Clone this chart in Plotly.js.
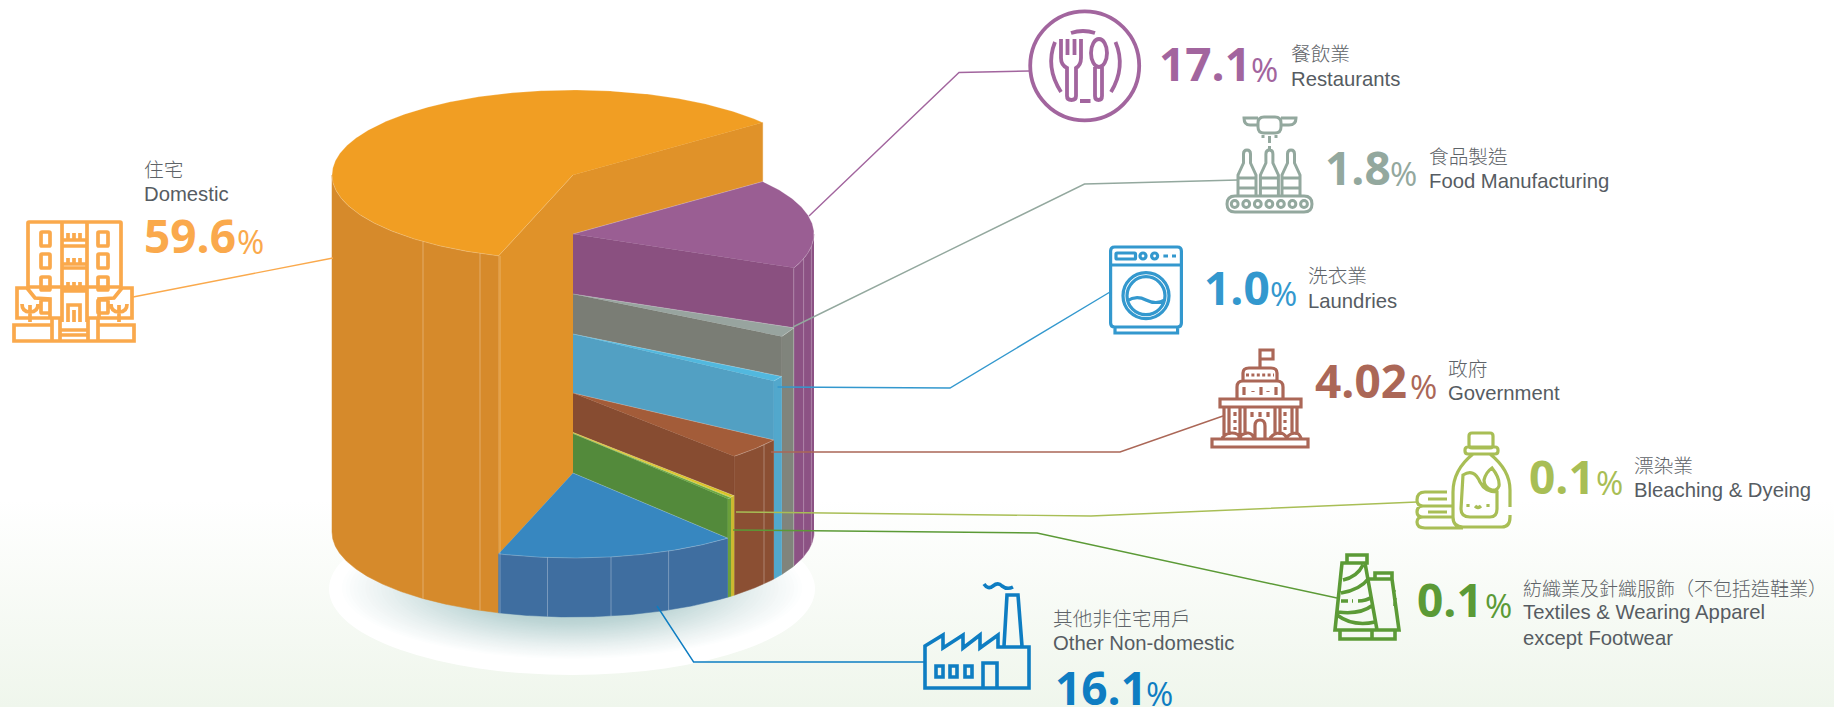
<!DOCTYPE html>
<html><head><meta charset="utf-8">
<script src="https://cdn.plot.ly/plotly-3.0.1.min.js"></script>
<style>html,body{margin:0;padding:0;width:1834px;height:707px;overflow:hidden;background:linear-gradient(180deg,#fff 0,#fff 500px,#eff6ec 707px)}#c{width:1834px;height:707px}</style>
</head><body><div id="c"></div>
<script>
// ---------- data ----------
const categoriesZh = ["住宅","餐飲業","食品製造","洗衣業","政府","漂染業","紡織業及針織服飾（不包括造鞋業）","其他非住宅用戶"];
const categoriesEn = ["Domestic","Restaurants","Food Manufacturing","Laundries","Government","Bleaching & Dyeing","Textiles & Wearing Apparel<br>except Footwear","Other Non-domestic"];
const shares = [59.6,17.1,1.8,1.0,4.02,0.1,0.1,16.1];
const shareLabels = ["59.6","17.1","1.8","1.0","4.02","0.1","0.1","16.1"];

// ---------- styles ----------
const topColors  = ["#F19E23","#9A5E93","#98A49F","#52B8DE","#A35C39","#D8C220","#6BA83F","#3787C0"];
const faceColors = ["#E09229","#8A5080","#7A7D75","#52A0C3","#874C31","#D8C220","#538A3B","#3787C0"];
const wallColors = ["#D68A2B","#8C5284","#80847C","#52A8CC","#8B4F33","#CDB92E","#6BA03C","#3F6EA0"];
const inkColors  = ["#FAA94C","#A2659E","#93A89E","#3398CE","#AB6757","#A8BE55","#5B9A36","#0E7DC2"];
const sliceTops  = [175,234,294,334,393,432.5,433.5,473];   // step height of each slice at the pie centre
const pie = {cx:573, rx:241, ry:85, bottom:532, start:38.1, minSweep:1.0};

// ---------- 3-D pie geometry, computed from the shares ----------
const rad = d => d*Math.PI/180;
const pt = (a,lvl) => [pie.cx+pie.rx*Math.cos(rad(a)), lvl-pie.ry*Math.sin(rad(a))];
function arc(a0,a1,lvl){const n=Math.max(2,Math.ceil(Math.abs(a0-a1)*2)),o=[];for(let i=0;i<=n;i++)o.push(pt(a0+(a1-a0)*i/n,lvl));return o;}
const spans=[]; {let a=pie.start; for(let i=1;i<shares.length;i++){const e=a-Math.max(shares[i]*3.6,pie.minSweep);spans[i]=[a,e];a=e;} spans[0]=[a,pie.start-360];}
const traces=[];
function poly(p,fill,line,w){traces.push({type:"scatter",mode:"lines",x:p.map(q=>q[0]),y:p.map(q=>q[1]),fill:"toself",fillcolor:fill,line:{color:line,width:w},hoverinfo:"skip",showlegend:false});}
function seg(p,color,w){traces.push({type:"scatter",mode:"lines",x:p.map(q=>q[0]),y:p.map(q=>q[1]),line:{color:color,width:w},hoverinfo:"skip",showlegend:false});}
const edge="rgba(255,255,255,0.32)";
shares.forEach((v,i)=>{
  const [s,e]=spans[i], top=sliceTops[i];
  const next=i<shares.length-1?sliceTops[i+1]:pie.bottom;
  if(i===0){ // both cut sides of the large slice
    const a=pt(pie.start-360,top),b=pt(pie.start-360,sliceTops[1]);
    poly([[pie.cx,top],a,b,[pie.cx,sliceTops[1]]],faceColors[0],faceColors[0],.5);
    const c=pt(s,top),d=pt(s,sliceTops[7]);
    poly([[pie.cx,top],c,d,[pie.cx,sliceTops[7]]],faceColors[0],faceColors[0],.5);
  } else if(i<shares.length-1){
    poly([[pie.cx,top],pt(e,top),pt(e,next),[pie.cx,next]],faceColors[i],faceColors[i],.5);
  }
  const ws=Math.min(s,0), we=Math.max(e,-180);
  if(ws>we){const upper=arc(ws,we,top), lower=arc(we,ws,pie.bottom);
    poly(upper.concat(lower),wallColors[i],wallColors[i],.5);}
  poly([[pie.cx,top]].concat(arc(s,e,top)),topColors[i],edge,.7);
});
// facet seams on the outer wall
const seamSlice=[0,0,0,7,7,7,4,1,1,1];
const seamX=[423,480,500,547.5,611,668.6,764,793.6,803.6,811.4];
seamX.forEach((x,k)=>{const h=pie.ry*Math.sqrt(1-Math.pow((x-pie.cx)/pie.rx,2));
  seg([[x,sliceTops[seamSlice[k]]+h],[x,pie.bottom+h]],"rgba(255,255,255,0.3)",1);});

// leader lines
const leaders=[
 [[333,258],[133,297]],
 [[809,216],[959,72.5],[1029,71]],
 [[793,327],[1084.5,184],[1238,180]],
 [[777.5,387],[950,388],[1110,292]],
 [[771,452],[1120,452],[1223,416]],
 [[736,512],[1091,516],[1417,502]],
 [[733,530],[1037,533],[1337,598]],
 [[657,606],[693.6,662],[925,662]]];
leaders.forEach((p,i)=>seg(p,inkColors[i],1.4));

// ---------- text ----------
const zhPos=[[144,168],[1290.6,52],[1428.6,155],[1307.7,274],[1448,367],[1634,464],[1523,587],[1053,617]];
const enPos=[[144,194],[1290.6,79],[1428.6,181],[1307.7,301],[1448,393],[1634,490],[1523,625],[1053,643]];
const zhSizes=[19.7,19.7,19.7,19.7,19.7,19.7,19,19.7];
const numPos=[[146,235],[1161,63],[1326.5,167],[1206,287],[1316.5,380],[1531,476],[1419,599],[1057,687]];
const pctX=[237,1251,1390,1270,1410,1596,1485,1146];
const annotations=[];
function note(t,x,y,size,color,fam,weight){annotations.push({text:t,x:x,y:y,xref:"x",yref:"y",xanchor:"left",yanchor:"middle",align:"left",showarrow:false,borderpad:0,borderwidth:0,font:{family:fam,size:size,color:color,weight:weight}});}
const zhFont='"Noto Sans CJK TC"', enFont='"Liberation Sans",Arial', numFont='"Open Sans"';
shares.forEach((v,i)=>{
  note(categoriesZh[i],zhPos[i][0],zhPos[i][1],zhSizes[i],"#5E6368",zhFont,300);
  note(categoriesEn[i],enPos[i][0],enPos[i][1],20.3,"#565C62",enFont,400);
  note(shareLabels[i],numPos[i][0]-2,numPos[i][1],46,inkColors[i],numFont,700);
  note("%",pctX[i],numPos[i][1]+6,33,inkColors[i],numFont,400);
});

// ---------- decorative plinth and pictograms, drawn as layout shapes ----------
const shapes=[];
// plinth: white disc, then a soft shadow built from nested ellipses
const disc=(cx,cy,rx,ry,c)=>shapes.push({type:"circle",xref:"x",yref:"y",x0:cx-rx,x1:cx+rx,y0:cy-ry,y1:cy+ry,fillcolor:c,line:{width:0},layer:"below"});
disc(572,589,243,86,"#ffffff");
const shadeStops=[[1,[255,255,255]],[.8,[232,240,240]],[.5,[190,214,214]],[0,[150,188,188]]];
function shade(t){for(let k=0;k<shadeStops.length-1;k++){const a=shadeStops[k],b=shadeStops[k+1];if(t<=a[0]&&t>=b[0]){const f=(a[0]-t)/(a[0]-b[0]);return "rgb("+a[1].map((c,j)=>Math.round(c+(b[1][j]-c)*f)).join(",")+")";}}return "rgb(150,188,188)";}
for(let n=60;n>=1;n--){const t=n/60;disc(572,588,234*t,72*t,shade(t));}

const K=.5523;
const ell=(x,y,rx,ry)=>{const a=rx*K,b=ry*K;return `M${x-rx},${y}C${x-rx},${y-b} ${x-a},${y-ry} ${x},${y-ry}C${x+a},${y-ry} ${x+rx},${y-b} ${x+rx},${y}C${x+rx},${y+b} ${x+a},${y+ry} ${x},${y+ry}C${x-a},${y+ry} ${x-rx},${y+b} ${x-rx},${y}Z`;};
const box=(a,b,c,d,r)=>{r=r||0;return r?`M${a+r},${b}H${c-r}Q${c},${b} ${c},${b+r}V${d-r}Q${c},${d} ${c-r},${d}H${a+r}Q${a},${d} ${a},${d-r}V${b+r}Q${a},${b} ${a+r},${b}Z`:`M${a},${b}H${c}V${d}H${a}Z`;};
const icon=(i,w,d,dash)=>shapes.push({type:"path",xref:"x",yref:"y",path:d,fillcolor:"rgba(0,0,0,0)",line:{color:inkColors[i],width:w,dash:dash||"solid"},layer:"above"});

// domestic
const tree=f=>`M${f(28)},288H${f(17)}V318H${f(50)}V299L${f(35)},298L${f(27)},288M${f(30)},322V305M${f(22)},304Q${f(22)},312 ${f(30)},312Q${f(38)},312 ${f(38)},304`;
let homes=box(28,222,121,287,1)+"M62,222V322M87,222V322";
[[232,246],[254,268],[277,290],[300,313]].forEach(r=>{homes+=box(41,r[0],50,r[1],1)+box(98,r[0],108,r[1],1);});
[[233,240,246],[258,264,268],[282,288,291]].forEach(r=>{homes+=`M62,${r[1]}H87M62,${r[2]}H87M68,${r[0]}V${r[1]}M74,${r[0]}V${r[1]}M80,${r[0]}V${r[1]}`;});
homes+="M68,322V305H80V322M74,310V322M14,325H52V341H14ZM98,325H134V341H98ZM52,318H60V341H52ZM88,318H98V341H88ZM60,330H88M60,335H88M60,341H88";
icon(0,3.7,homes+tree(x=>x)+tree(x=>149-x));
// restaurants
icon(1,3.8,ell(1084.7,65.8,54.5,54.5)+"M1071,33Q1083,29 1095,33M1061,92Q1045,67 1055,42M1115.5,42Q1126,67 1111,92M1080,101H1090.5"
 +"M1061,39V58Q1061,65 1067,68V96Q1067,100 1071.5,100Q1076,100 1076,96V68Q1081,65 1081,58V39M1067.5,39V55M1074.5,39V55"
 +ell(1099,53,8,14)+"M1095,67V96Q1095,100 1098.5,100Q1102,100 1102,96V67");
// food manufacturing
let bottles="";[1247,1269.4,1291].forEach(x=>{bottles+=`M${x-3.5},163V154Q${x-3.5},150 ${x},150Q${x+3.5},150 ${x+3.5},154V163L${x+9},175V196H${x-9}V175ZM${x-9},178H${x+9}M${x-9},188H${x+9}`;});
let rollers="";for(let i=0;i<7;i++)rollers+=ell(1234.7+i*11.55,204,3.4,3.4);
icon(2,3,box(1258,117,1281,133,6)+"M1258,125H1250Q1244,125 1244,118H1258M1281,125H1289Q1296,125 1296,118H1281M1269.5,136V143M1269.5,146V150M1263,135V138M1276,135V138"+bottles+box(1227,196,1312,212,8)+rollers);
// laundries
icon(3,3.2,box(1110.6,247,1181.4,327,4)+"M1110.6,265H1181.4"+box(1116,253,1135.5,259,1)+ell(1143,256,3,3)+ell(1154.6,256,3,3)+"M1163.4,256H1168M1172,256H1176"
 +ell(1146,295.7,23,23)+ell(1146,295.7,19,19)+"M1127,301Q1136,295 1146,300T1165,300M1115,327V333H1177.6V327");
// government
icon(4,3.2,"M1260,368V350H1273V359H1260M1243,380V373Q1243,368 1249,368H1271Q1277,368 1277,373V380M1237,398V387Q1237,381 1243,381H1277Q1283,381 1283,387V398"
 +box(1220,399,1301,407)+"M1224,407V435M1229,407V435M1240,407V435M1245,407V435M1275,407V435M1280,407V435M1292,407V435M1297,407V435"
 +"M1244,387V395M1276,387V395M1261,387V395M1253,391V392M1268,391V392M1235,412V416M1235,420V423M1235,427V430M1285,412V416M1285,420V423M1285,427V430M1252,412V417M1260,412V417M1268,412V417"
 +"M1255,438V426Q1255,420 1260,420Q1265,420 1265,426V438M1222,438Q1226,433 1232,433Q1238,433 1241,438M1238,438Q1243,433 1248,433Q1252,433 1254,438M1270,438Q1274,433 1280,433Q1284,433 1287,438M1286,438Q1290,433 1296,433Q1299,433 1301,438"
 +box(1212,439,1308,447));
icon(4,3,"M1246,375H1274","3px,2.4px");
// bleaching
icon(5,3.2,box(1469,433,1493,448,3)+box(1465,447,1498,454,3)+"M1473,454Q1453,470 1453,492V517Q1453,527 1463,527H1502Q1510,527 1510,517V515M1510,507V490Q1510,470 1490,454"
 +"M1463,475Q1474,468 1480,482Q1485,492 1497,492V509Q1497,517 1490,517H1470Q1461,517 1461,509ZM1492,468Q1500,478 1499,486Q1497,491 1492,490Q1484,488 1484,480Q1486,472 1492,468Z"
 +"M1468,504V507M1488,504V507M1475,506Q1478,509 1481,506M1447,492H1425Q1417,492 1417,500Q1417,506 1423,506H1453M1423,506Q1417,506 1417,512Q1417,517 1423,517H1453M1423,517Q1417,517 1417,522Q1417,528 1425,528H1463M1428,499H1447M1428,512H1447");
// textiles
icon(6,3.6,box(1347,555,1367,563)+"M1342,563H1365L1377,630H1335ZM1375,579V573H1392V579M1367,579H1392L1399,630H1377"+box(1340,630,1395,639)+"M1372,630V639"
 +"M1343,580Q1357,577 1363,565M1341,593Q1360,590 1369,578M1341,601H1348M1352,601H1353M1358,601Q1366,601 1372,597M1338,612Q1360,615 1373,605M1337,615Q1353,627 1375,622M1394,590V592M1395,598V606");
// other non-domestic
icon(7,3.6,"M984,584Q988,590 993,586Q998,582 1002,586Q1007,590 1013,587M1004,646L1007,595H1018L1022,646M925,688V646L943,635V648L963,635V648L980,635V648L998,635V647H1029V688Z"
 +box(936,666,943,677)+box(950,666,957,677)+box(965,666,972,677)+"M983,688V663H997V688");

const layout={width:1834,height:707,margin:{l:0,r:0,t:0,b:0,pad:0},paper_bgcolor:"rgba(0,0,0,0)",plot_bgcolor:"rgba(0,0,0,0)",showlegend:false,hovermode:false,
 xaxis:{range:[0,1834],visible:false,fixedrange:true},yaxis:{range:[707,0],visible:false,fixedrange:true},
 annotations:annotations,shapes:shapes};
Plotly.newPlot("c",traces,layout,{displayModeBar:false,responsive:false});
</script></body></html>
